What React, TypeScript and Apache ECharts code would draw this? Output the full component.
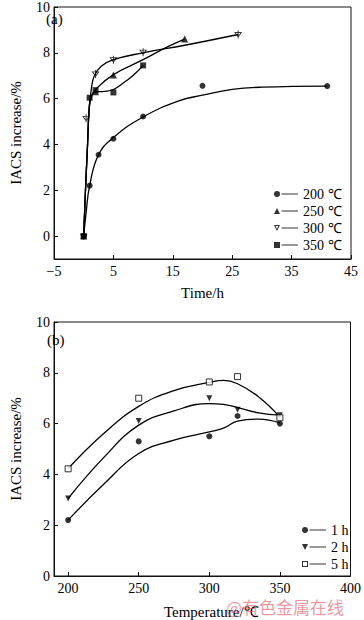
import React, { useEffect, useRef } from "react";
import * as echarts from "echarts";

// ---------- Panel (a): IACS increase vs time ----------
const marks200: number[][] = [[0, 0], [1, 2.2], [2.5, 3.55], [5, 4.25], [10, 5.22], [20, 6.56], [41, 6.55]];
const marks250: number[][] = [[0, 0], [2, 6.3], [5, 7.03], [17, 8.6]];
const marks300: number[][] = [[0, 0], [0.4, 5.14], [2, 7.08], [5, 7.7], [10, 8.03], [26, 8.8]];
const marks350: number[][] = [[0, 0], [1, 6.04], [2, 6.37], [5, 6.27], [10, 7.45]];

const fit200: number[][] = [[0, 0], [0.4, 1.0], [1, 2.2], [2.5, 3.55], [5, 4.3], [10, 5.2], [16, 5.9], [20, 6.15], [25, 6.4], [30, 6.5], [41, 6.55]];
const fit250: number[][] = [[0, 0], [0.3, 2], [0.65, 4], [0.95, 5.6], [1.3, 6.1], [2, 6.4], [5, 7.05], [10, 7.7], [14, 8.25], [17, 8.6]];
const fit300: number[][] = [[0, 0], [0.3, 2], [0.65, 4], [0.9, 5.5], [1.3, 6.45], [1.8, 7.0], [3, 7.42], [5, 7.7], [10, 8.0], [17, 8.33], [26, 8.8]];
const fit350: number[][] = [[0, 0], [0.3, 2], [0.65, 4], [0.9, 5.5], [1.2, 6.05], [2, 6.3], [3.5, 6.32], [5, 6.4], [7, 6.75], [8.5, 7.05], [10, 7.45]];

const namesA = ["200 ℃", "250 ℃", "300 ℃", "350 ℃"];
const ticksTimeY = [0, 2, 4, 6, 8, 10];

// ---------- Panel (b): IACS increase vs temperature ----------
const temps = [200, 250, 300, 320, 350];
const h1 = [2.2, 5.3, 5.5, 6.3, 6.0];
const h2 = [3.05, 6.1, 7.0, 6.55, 6.33];
const h5 = [4.22, 7.0, 7.64, 7.85, 6.23];

const fitTemps = [200, 225, 250, 275, 300, 310, 320, 335, 350];
const fit1 = [2.2, 3.6, 4.82, 5.35, 5.67, 5.82, 6.1, 6.18, 6.03];
const fit2 = [3.05, 4.65, 5.94, 6.5, 6.79, 6.76, 6.63, 6.42, 6.33];
const fit5 = [4.23, 5.6, 6.68, 7.3, 7.62, 7.7, 7.57, 7.05, 6.26];

const namesB = ["1 h", "2 h", "5 h"];
const ticksTempX = [200, 250, 300, 350, 400];
const ticksTempY = [0, 2, 4, 6, 8, 10];

const FONT = '"Liberation Serif", "Times New Roman", serif';
const INK = "#111";

const LINE_TAIL = " M7.5,2.5h16.5v1h-16.5Z";
const iconCircle = "path://M0,3a3,3 0 1,0 6,0a3,3 0 1,0 -6,0Z" + LINE_TAIL;
const iconTri = "path://M3,0L6,6L0,6Z" + LINE_TAIL;
const iconTriDownOpen = "path://M0,0L6,0L3,6Z M1.6,0.9L3,3.9L4.4,0.9Z" + LINE_TAIL;
const iconTriDown = "path://M0,0L6,0L3,6Z" + LINE_TAIL;
const iconSquare = "path://M0,0h6v6h-6Z" + LINE_TAIL;
const iconSquareOpen = "path://M0,0h6v6h-6Z M1,1v4h4v-4Z" + LINE_TAIL;

const symStar = "path://M0,1L8,1L4,8Z M1.8,2L4,6.3L6.2,2Z M3.5,-1h1v10h-1Z";

const pair = (xs: number[], ys: number[]) => xs.map((x, i) => [x, ys[i]]);
const minusFmt = (v: number) => String(v).replace("-", "−");

const axisCommon = {
  axisLine: { show: true, onZero: false, lineStyle: { color: INK, width: 1 } },
  axisTick: { show: true, inside: true, length: 4, lineStyle: { color: INK } },
  splitLine: { show: false },
  axisLabel: { color: "#000", fontSize: 14, fontFamily: FONT, formatter: minusFmt },
  nameTextStyle: { color: "#000", fontSize: 15, fontFamily: FONT, fontWeight: "normal" },
};

const yLabel = {
  ...axisCommon.axisLabel,
  margin: 4,
  align: "right",
  verticalAlign: "middle",
  verticalAlignMaxLabel: "middle",
  verticalAlignMinLabel: "middle",
};

function fitLine(name: string, data: number[][], xi: number) {
  return {
    name: name + " fit",
    type: "line",
    xAxisIndex: xi,
    yAxisIndex: xi,
    data,
    smooth: 0.45,
    showSymbol: false,
    symbol: "none",
    silent: true,
    lineStyle: { color: "#000", width: 1.3 },
    z: 2,
  };
}

function marks(name: string, data: number[][], xi: number, symbol: string, size: number, open = false) {
  return {
    name,
    type: "scatter",
    xAxisIndex: xi,
    yAxisIndex: xi,
    data,
    symbol,
    symbolSize: size,
    itemStyle: open
      ? { color: "#fff", borderColor: "#000", borderWidth: 1 }
      : { color: "#000" },
    z: 3,
  };
}

export default function App() {
  const ref = useRef<HTMLDivElement>(null);

  useEffect(() => {
    document.body.style.margin = "0";
    if (!ref.current) return;
    const chart = echarts.init(ref.current, undefined, { renderer: "svg" });

    const legendCommon = {
      orient: "vertical",
      itemWidth: 24,
      itemHeight: 6,
      itemGap: 3,
      selectedMode: false,
      textStyle: { color: "#000", fontSize: 14, fontFamily: FONT, lineHeight: 14 },
    };

    chart.setOption({
      animation: false,
      backgroundColor: "#fff",
      grid: [
        { left: 41, top: 6, width: 310, height: 253, show: true, borderColor: INK, borderWidth: 1, backgroundColor: "transparent", containLabel: false },
        { left: 42, top: 322, width: 310, height: 254, show: true, borderColor: INK, borderWidth: 1, backgroundColor: "transparent", containLabel: false },
      ],
      xAxis: [
        {
          ...axisCommon,
          type: "value",
          gridIndex: 0,
          min: -5,
          max: 45,
          interval: 10,
          axisLabel: { ...axisCommon.axisLabel, margin: 5 },
          name: "Time/h",
          nameLocation: "middle",
          nameGap: 26,
        },
        {
          ...axisCommon,
          type: "value",
          gridIndex: 1,
          min: 190,
          max: 400,
          axisLabel: { ...axisCommon.axisLabel, margin: 5, customValues: ticksTempX },
          axisTick: { ...axisCommon.axisTick, customValues: ticksTempX },
          name: "Temperature/℃",
          nameLocation: "middle",
          nameGap: 28,
          nameTextStyle: { ...axisCommon.nameTextStyle, padding: [0, 0, 0, 18] },
        },
      ],
      yAxis: [
        {
          ...axisCommon,
          type: "value",
          gridIndex: 0,
          min: -1,
          max: 10,
          axisLabel: { ...yLabel, customValues: ticksTimeY },
          axisTick: { ...axisCommon.axisTick, customValues: ticksTimeY },
          name: "IACS increase/%",
          nameLocation: "middle",
          nameGap: 31,
        },
        {
          ...axisCommon,
          type: "value",
          gridIndex: 1,
          min: 0,
          max: 10,
          axisLabel: { ...yLabel, customValues: ticksTempY },
          axisTick: { ...axisCommon.axisTick, customValues: ticksTempY },
          name: "IACS increase/%",
          nameLocation: "middle",
          nameGap: 31,
        },
      ],
      legend: [
        {
          ...legendCommon,
          left: 269,
          top: 182,
          data: [
            { name: namesA[0], icon: iconCircle },
            { name: namesA[1], icon: iconTri },
            { name: namesA[2], icon: iconTriDownOpen },
            { name: namesA[3], icon: iconSquare },
          ],
        },
        {
          ...legendCommon,
          left: 297,
          top: 518,
          data: [
            { name: namesB[0], icon: iconCircle },
            { name: namesB[1], icon: iconTriDown },
            { name: namesB[2], icon: iconSquareOpen, itemStyle: { color: "#000", borderWidth: 0 } },
          ],
        },
      ],
      graphic: [
        { type: "text", left: 46, top: 11, style: { text: "(a)", fontSize: 15, fontFamily: FONT, fill: "#000" } },
        { type: "text", left: 47, top: 332, style: { text: "(b)", fontSize: 15, fontFamily: FONT, fill: "#000" } },
        {
          type: "text",
          left: 226,
          top: 598,
          z: 100,
          style: {
            text: "@有色金属在线",
            fontSize: 17,
            fontFamily: '"Noto Sans CJK SC", sans-serif',
            fill: "rgba(222, 80, 95, 0.6)",
          },
        },
      ],
      series: [
        fitLine(namesA[0], fit200, 0),
        fitLine(namesA[1], fit250, 0),
        fitLine(namesA[2], fit300, 0),
        fitLine(namesA[3], fit350, 0),
        marks(namesA[0], marks200, 0, "circle", 6),
        marks(namesA[1], marks250, 0, "triangle", 7),
        marks(namesA[2], marks300, 0, symStar, 8),
        marks(namesA[3], marks350, 0, "rect", 6),
        fitLine(namesB[0], pair(fitTemps, fit1), 1),
        fitLine(namesB[1], pair(fitTemps, fit2), 1),
        fitLine(namesB[2], pair(fitTemps, fit5), 1),
        marks(namesB[0], pair(temps, h1), 1, "circle", 6),
        marks(namesB[1], pair(temps, h2), 1, "path://M0,0L6,0L3,6Z", 6),
        marks(namesB[2], pair(temps, h5), 1, "rect", 6, true),
      ],
    });

    return () => chart.dispose();
  }, []);

  return <div ref={ref} style={{ width: 364, height: 620 }} />;
}
